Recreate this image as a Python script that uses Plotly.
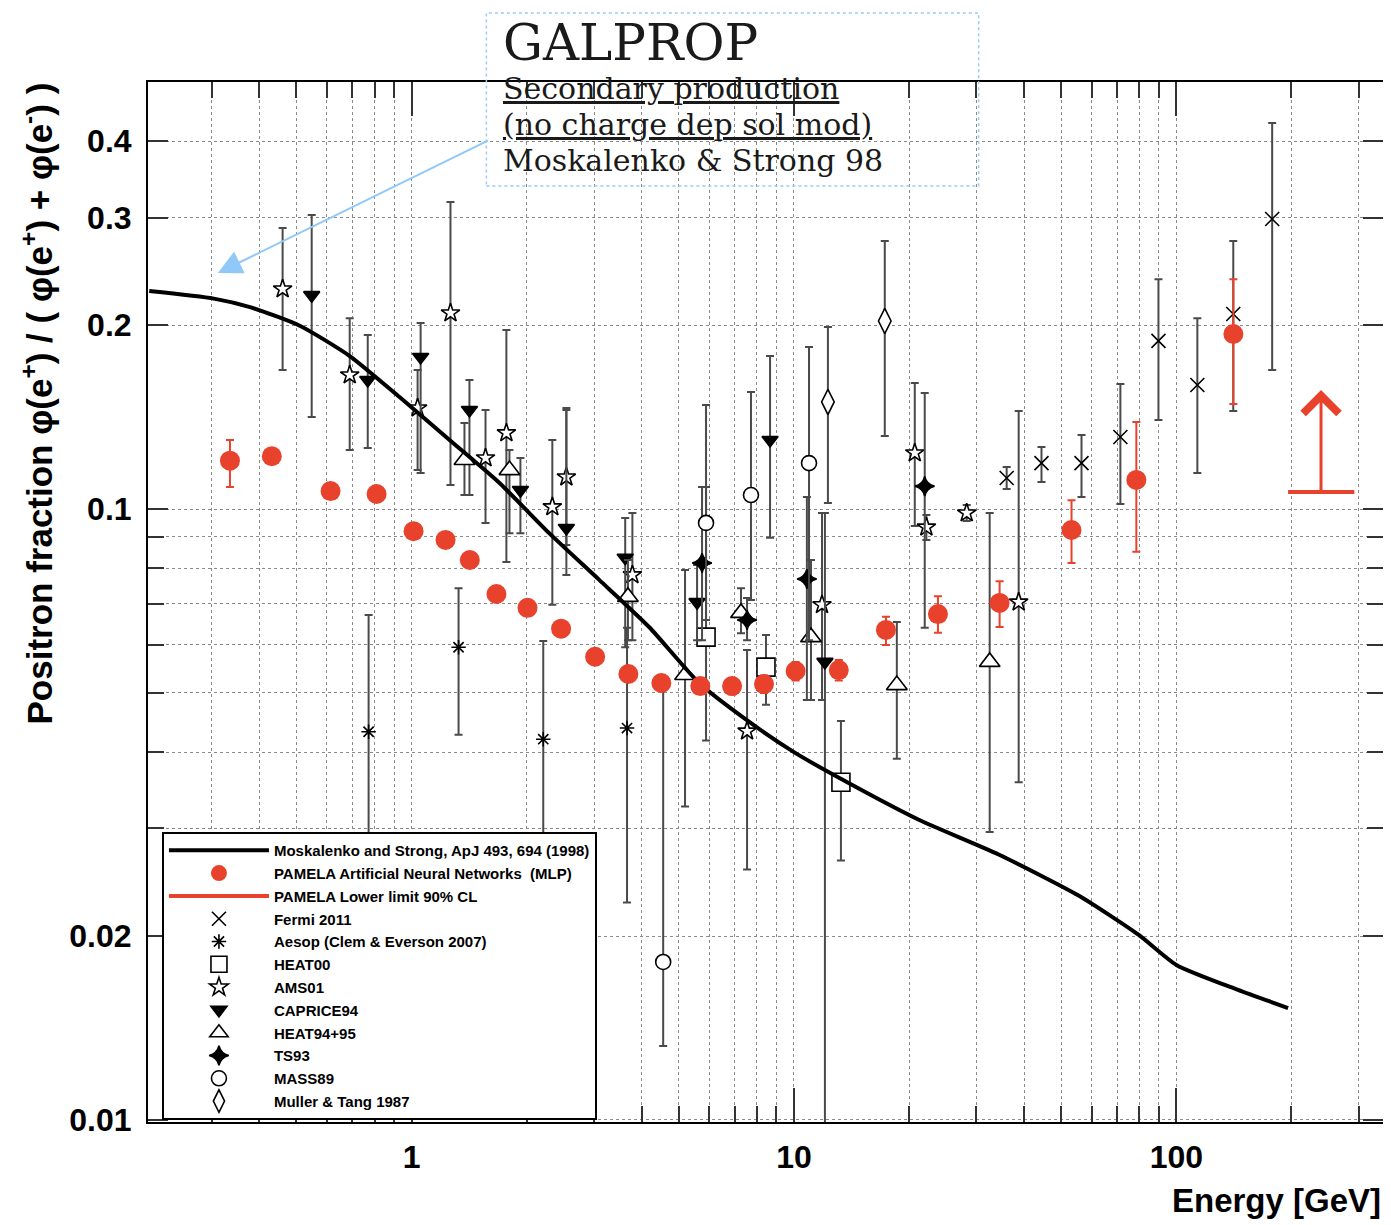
import numpy as np
import plotly.graph_objects as go

# Moskalenko & Strong 1998 secondary positron fraction
ms_energy = [0.206, 0.304, 0.378, 0.510, 0.689, 0.930, 1.257, 1.698, 2.29, 3.10, 4.18,
             5.65, 7.5, 10.0, 13.9, 21.2, 34.3, 55.5, 79.6, 100.0, 145.0, 196.0]
ms_frac = [0.2274, 0.2210, 0.2140, 0.1995, 0.1780, 0.1525, 0.1297, 0.1103, 0.0913, 0.0765, 0.0641,
           0.0519, 0.0452, 0.0400, 0.0356, 0.0310, 0.0272, 0.0233, 0.0201, 0.01794, 0.01633, 0.01525]

# PAMELA ANN (MLP)
pam_energy = [0.335, 0.431, 0.614, 0.810, 1.012, 1.227, 1.42, 1.667, 2.01, 2.46, 3.02, 3.69,
              4.50, 5.69, 6.89, 8.35, 10.1, 13.1, 17.4, 23.8, 34.5, 53.2, 78.6, 141.0]
pam_frac = [0.120, 0.122, 0.107, 0.1058, 0.0920, 0.0890, 0.0825, 0.0726, 0.0689, 0.0637, 0.0573, 0.0537,
            0.0519, 0.0513, 0.0513, 0.0517, 0.0543, 0.0545, 0.0634, 0.0673, 0.0702, 0.0924, 0.1116, 0.1934]
pam_upper = [0.1297, 0.125, 0.110, 0.1088, 0.0945, 0.0914, 0.0848, 0.0746, 0.0708, 0.0655, 0.0589, 0.0552,
             0.0534, 0.0528, 0.0529, 0.0534, 0.0562, 0.0566, 0.0666, 0.0720, 0.0762, 0.1034, 0.1388, 0.2377]
pam_lower = [0.1086, 0.119, 0.104, 0.1028, 0.0895, 0.0866, 0.0802, 0.0706, 0.0670, 0.0619, 0.0557, 0.0522,
             0.0504, 0.0498, 0.0497, 0.0500, 0.0524, 0.0524, 0.0599, 0.0627, 0.0641, 0.0816, 0.0851, 0.1486]

# PAMELA lower limit 90% CL
ll_energy = [196.0, 292.0]
ll_frac = [0.1066, 0.1066]
ll_center = 239.0
ll_arrow_top = 0.1566

fermi_energy = [36.0, 44.4, 56.5, 71.4, 89.8, 113.5, 140.9, 178.1]
fermi_frac = [0.1124, 0.1189, 0.1189, 0.1312, 0.1884, 0.1596, 0.2085, 0.2983]
fermi_upper = [0.1171, 0.1263, 0.1322, 0.1602, 0.2378, 0.2053, 0.2745, 0.4282]
fermi_lower = [0.1078, 0.1107, 0.1046, 0.1019, 0.1398, 0.1145, 0.1447, 0.1689]

aesop_energy = [0.772, 1.327, 2.21, 3.66]
aesop_frac = [0.0432, 0.0594, 0.0420, 0.0438]
aesop_upper = [0.0671, 0.0742, 0.0608, 0.0639]
aesop_lower = [0.022, 0.0427, 0.022, 0.0227]

heat00_energy = [5.89, 8.45, 13.27]
heat00_frac = [0.0617, 0.0551, 0.0357]
heat00_upper = [0.1086, 0.0622, 0.0450]
heat00_lower = [0.0418, 0.0478, 0.0266]

ams_energy = [0.460, 0.689, 1.037, 1.264, 1.561, 1.770, 2.334, 2.54, 3.78, 7.54, 11.84,
              20.7, 22.2, 28.3, 38.7]
ams_frac = [0.2291, 0.1657, 0.1463, 0.2093, 0.1212, 0.1332, 0.1008, 0.1128, 0.0780, 0.0433, 0.0697,
            0.1235, 0.0934, 0.0985, 0.0704]
ams_upper = [0.2884, 0.2053, 0.1689, 0.318, 0.1452, 0.1963, 0.1297, 0.1463, 0.0985, 0.0588, 0.0985,
             0.1608, 0.0978, 0.1015, 0.1447]
ams_lower = [0.1689, 0.1249, 0.1158, 0.1095, 0.0949, 0.0819, 0.0697, 0.0873, 0.0610, 0.0257, 0.0487,
             0.0938, 0.0890, 0.0956, 0.0357]

caprice_energy = [0.548, 0.768, 1.056, 1.417, 1.926, 2.54, 3.62, 5.58, 8.66, 12.05]
caprice_frac = [0.2239, 0.1626, 0.1773, 0.1452, 0.1074, 0.0931, 0.0832, 0.0704, 0.1297, 0.0562]
caprice_upper = [0.3028, 0.1927, 0.2015, 0.1626, 0.1212, 0.1452, 0.0967, 0.0810, 0.178, 0.0985]
caprice_lower = [0.1414, 0.1258, 0.1145, 0.1054, 0.0913, 0.0780, 0.0594, 0.0610, 0.0897, 0.009]

heat95_energy = [1.375, 1.803, 3.68, 5.19, 7.27, 11.08, 18.58, 32.5]
heat95_frac = [0.1203, 0.1158, 0.0718, 0.0535, 0.0676, 0.0617, 0.0515, 0.0562]
heat95_upper = [0.1383, 0.1249, 0.0825, 0.0795, 0.0742, 0.0825, 0.0653, 0.0985]
heat95_lower = [0.1054, 0.0913, 0.0610, 0.0326, 0.0626, 0.0487, 0.0390, 0.0296]

ts93_energy = [5.75, 7.54, 10.81, 21.98]
ts93_frac = [0.0816, 0.0658, 0.0768, 0.1090]
ts93_upper = [0.1086, 0.0715, 0.1046, 0.1548]
ts93_lower = [0.0610, 0.0610, 0.0487, 0.0639]

mass_energy = [4.55, 5.89, 7.72, 10.95]
mass_frac = [0.01814, 0.0949, 0.1054, 0.1189]
mass_upper = [0.0505, 0.1480, 0.1554, 0.1841]
mass_lower = [0.01322, 0.0658, 0.0710, 0.0610]

muller_energy = [12.27, 17.28]
muller_frac = [0.1497, 0.2031]
muller_upper = [0.1986, 0.2745]
muller_lower = [0.1023, 0.1317]

# GALPROP note arrow (tail -> head)
note_tail = (1.598, 0.4018)
note_head = (0.3114, 0.2434)

RED = "#e8412c"
ERR = "#4a4a4a"

fig = go.Figure()


def add_experiment(name, energy, frac, upper, lower, symbol, size, fill, rank):
    f = np.array(frac)
    fig.add_trace(go.Scatter(
        x=energy, y=frac, mode="markers", name=name,
        legendrank=rank, legendgroup=name,
        marker=dict(symbol=symbol, size=size, color=fill, line=dict(color="black", width=1.6)),
        error_y=dict(type="data", symmetric=False,
                     array=np.array(upper) - f, arrayminus=f - np.array(lower),
                     color=ERR, thickness=2, width=4),
    ))


add_experiment("Fermi 2011", fermi_energy, fermi_frac, fermi_upper, fermi_lower, "x-thin-open", 14, "black", 4)
add_experiment("Aesop (Clem & Everson 2007)", aesop_energy, aesop_frac, aesop_upper, aesop_lower, "asterisk-open", 12, "black", 5)
add_experiment("HEAT00", heat00_energy, heat00_frac, heat00_upper, heat00_lower, "square", 18, "white", 6)
add_experiment("AMS01", ams_energy, ams_frac, ams_upper, ams_lower, "star", 14, "white", 7)
add_experiment("CAPRICE94", caprice_energy, caprice_frac, caprice_upper, caprice_lower, "triangle-down", 14, "black", 8)
add_experiment("HEAT94+95", heat95_energy, heat95_frac, heat95_upper, heat95_lower, "triangle-up", 18, "white", 9)
add_experiment("TS93", ts93_energy, ts93_frac, ts93_upper, ts93_lower, "star-diamond", 14, "black", 10)
add_experiment("MASS89", mass_energy, mass_frac, mass_upper, mass_lower, "circle", 15, "white", 11)
add_experiment("Muller & Tang 1987", muller_energy, muller_frac, muller_upper, muller_lower, "diamond-tall", 18, "white", 12)

fig.add_trace(go.Scatter(
    x=ms_energy, y=ms_frac, mode="lines", name="Moskalenko and Strong, ApJ 493, 694 (1998)",
    line=dict(color="black", width=4, shape="spline", smoothing=0.6),
    legendrank=1, legendgroup="ms",
))

pf = np.array(pam_frac)
fig.add_trace(go.Scatter(
    x=pam_energy, y=pam_frac, mode="markers", name="PAMELA Artificial Neural Networks  (MLP)",
    marker=dict(symbol="circle", size=20, color=RED), legendrank=2, legendgroup="pam",
    error_y=dict(type="data", symmetric=False, array=np.array(pam_upper) - pf,
                 arrayminus=pf - np.array(pam_lower), color=RED, thickness=2, width=4),
))

fig.add_trace(go.Scatter(
    x=ll_energy, y=ll_frac, mode="lines", name="PAMELA Lower limit 90% CL",
    line=dict(color=RED, width=4), legendrank=3, legendgroup="ll",
))

fig.add_annotation(
    x=np.log10(ll_center), y=np.log10(ll_arrow_top), ax=np.log10(ll_center), ay=np.log10(ll_frac[0]),
    xref="x", yref="y", axref="x", ayref="y", text="", showarrow=True,
    arrowhead=4, arrowwidth=3, arrowsize=2.3, arrowcolor=RED,
)

fig.add_annotation(
    x=np.log10(note_head[0]), y=np.log10(note_head[1]),
    ax=np.log10(note_tail[0]), ay=np.log10(note_tail[1]),
    xref="x", yref="y", axref="x", ayref="y", text="", showarrow=True,
    arrowhead=2, arrowwidth=2, arrowsize=2.4, arrowcolor="#90c8f8",
)

# GALPROP text box
fig.add_shape(type="rect", xref="paper", yref="paper", x0=0.274, x1=0.6726, y0=0.9, y1=1.0663,
              line=dict(color="#9cc9f5", width=1.5, dash="dot"))
serif = "DejaVu Serif"
fig.add_annotation(xref="paper", yref="paper", x=0.2862, y=1.0375, xanchor="left", yanchor="middle",
                   text="GALPROP", showarrow=False, font=dict(family=serif, size=50, color="#1a1a1a"))
fig.add_annotation(xref="paper", yref="paper", x=0.2862, y=0.9942, xanchor="left", yanchor="middle",
                   text="<u>Secondary production</u>", showarrow=False,
                   font=dict(family=serif, size=30, color="#1a1a1a"))
fig.add_annotation(xref="paper", yref="paper", x=0.2862, y=0.9596, xanchor="left", yanchor="middle",
                   text="<u>(no charge dep sol mod)</u>", showarrow=False,
                   font=dict(family=serif, size=30, color="#1a1a1a"))
fig.add_annotation(xref="paper", yref="paper", x=0.2862, y=0.9248, xanchor="left", yanchor="middle",
                   text="Moskalenko &amp; Strong 98", showarrow=False,
                   font=dict(family=serif, size=30, color="#1a1a1a"))

# axis titles
fig.add_annotation(xref="paper", yref="paper", x=-0.0895, y=0.6913, textangle=-90,
                   xanchor="center", yanchor="middle", showarrow=False,
                   text="Positron fraction φ(e<sup>+</sup>) / ( φ(e<sup>+</sup>) + φ(e<sup>-</sup>) )",
                   font=dict(family="Liberation Sans", size=35, weight="bold", color="black"))
fig.add_annotation(xref="paper", yref="paper", x=1.0, y=-0.075, xanchor="right", yanchor="middle",
                   showarrow=False, text="Energy [GeV]",
                   font=dict(family="Liberation Sans", size=33, weight="bold", color="black"))

grid = dict(showgrid=True, gridcolor="#8a8a8a", griddash="dot", gridwidth=1)
tickfont = dict(family="Liberation Sans", size=32, weight="bold", color="black")

fig.update_xaxes(
    type="log", range=[-0.6893, 2.5405],
    tickvals=[1, 10, 100], ticktext=["1", "10", "100"],
    ticks="inside", ticklen=34, tickwidth=1.5, tickcolor="#333",
    mirror="allticks", showline=True, linecolor="black", linewidth=2,
    tickfont=tickfont, ticklabelstandoff=6, zeroline=False,
    minor=dict(tickvals=[0.3, 0.4, 0.5, 0.6, 0.7, 0.8, 0.9, 2, 3, 4, 5, 6, 7, 8, 9,
                         20, 30, 40, 50, 60, 70, 80, 90, 200, 300],
               ticks="inside", ticklen=16, tickwidth=1.5, tickcolor="#333", **grid),
    **grid,
)
fig.update_yaxes(
    type="log", range=[-2.0033, -0.3011],
    tickvals=[0.01, 0.02, 0.1, 0.2, 0.3, 0.4], ticktext=["0.01", "0.02", "0.1", "0.2", "0.3", "0.4"],
    ticks="inside", ticklen=20, tickwidth=1.5, tickcolor="#333",
    mirror="allticks", showline=True, linecolor="black", linewidth=2,
    tickfont=tickfont, ticklabelstandoff=8, zeroline=False,
    minor=dict(tickvals=[0.03, 0.04, 0.05, 0.06, 0.07, 0.08, 0.09, 0.5],
               ticks="inside", ticklen=16, tickwidth=1.5, tickcolor="#333", **grid),
    **grid,
)

# page body keeps its default 8px margin, so the figure is 8px smaller than the window
fig.update_layout(
    width=1383, height=1217,
    margin=dict(l=140, r=6, t=74, b=103),
    paper_bgcolor="white", plot_bgcolor="white",
    showlegend=True,
    legend=dict(
        x=0.0113, y=0.2788, xanchor="left", yanchor="top",
        bgcolor="white", bordercolor="black", borderwidth=2,
        font=dict(family="Liberation Sans", size=15, weight="bold", color="black"),
        itemwidth=100, traceorder="grouped", tracegroupgap=0.3,
    ),
)

fig.write_html("out.html")
